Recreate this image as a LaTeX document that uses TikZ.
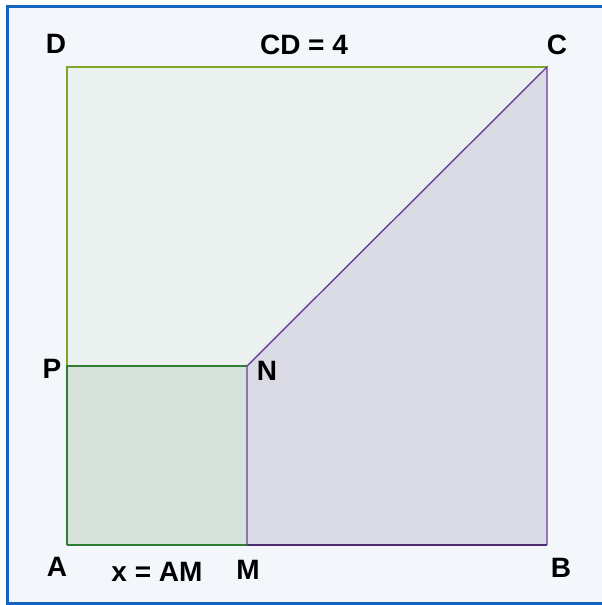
\documentclass[tikz,border=0pt]{standalone}
\usepackage{fontspec}
\setmainfont{Liberation Sans}
\usepackage{xcolor}
\usepackage{tikz}
\usetikzlibrary{positioning}

\definecolor{framebl}{HTML}{1565C0}
\definecolor{paper}{HTML}{F3F6FB}
\definecolor{topfill}{HTML}{EBF1EE}
\definecolor{sqfill}{HTML}{D5E3DC}
\definecolor{trapfill}{HTML}{DADAE4}
\definecolor{lime}{HTML}{7FA82A}
\definecolor{dkgreen}{HTML}{2E7D32}
\definecolor{violet}{HTML}{6A3D9A}

\begin{document}
\begin{tikzpicture}[
    x=1pt, y=-1pt,
    every node/.style={font=\bfseries\fontsize{28}{32}\selectfont, inner sep=0pt},
    limeline/.style={draw=lime, line width=2pt},
    greenline/.style={draw=dkgreen, line width=1.4pt},
    violetline/.style={draw=violet, line width=1.4pt}
  ]

  % ── Frame and paper ─────────────────────────────────────────────────────
  \useasboundingbox (0, 0) rectangle (602, 605);
  \clip (0, 0) rectangle (602, 605);
  \fill[white] (0, 0) rectangle (602, 605);
  \filldraw[fill=paper, draw=framebl, line width=3.2pt] (7.5, 6.5) rectangle (620, 603.5);

  % ── Corner points (square side 480px, AM = 180px) ───────────────────────
  \coordinate (A) at (67, 545);
  \coordinate (B) at (547, 545);
  \coordinate (C) at (547, 67);
  \coordinate (D) at (67, 67);
  \coordinate (M) at (247, 545);
  \coordinate (N) at (247, 366);
  \coordinate (P) at (67, 366);

  % ── Regions ─────────────────────────────────────────────────────────────
  \fill[topfill] (D) -- (C) -- (N) -- (P) -- cycle;
  \fill[sqfill] (A) -- (M) -- (N) -- (P) -- cycle;
  \fill[trapfill] (M) -- (B) -- (C) -- (N) -- cycle;

  % ── Edges ───────────────────────────────────────────────────────────────
  \draw[limeline] (P) -- (D) -- (C);
  \draw[greenline] (A) -- (P) -- (N);
  \draw[greenline] (A) -- (M);
  \draw[draw=violet!70!black, line width=1.4pt] (M) -- (B);
  \draw[violetline] (M) -- (N) -- (C) -- (B);

  % ── Labels ──────────────────────────────────────────────────────────────
  \node (lD) at (56, 44) {D};
  \node (lCD) at (304, 45) {CD = 4};
  \node (lC) at (557, 45) {C};
  \node (lP) at (52, 369) {P};
  \node (lN) at (267, 371) {N};
  \node (lA) at (57, 567) {A};
  \node (lAM) at (157, 572) {x = AM};
  \node (lM) at (248, 570) {M};
  \node (lB) at (561, 568) {B};

\end{tikzpicture}
\end{document}
